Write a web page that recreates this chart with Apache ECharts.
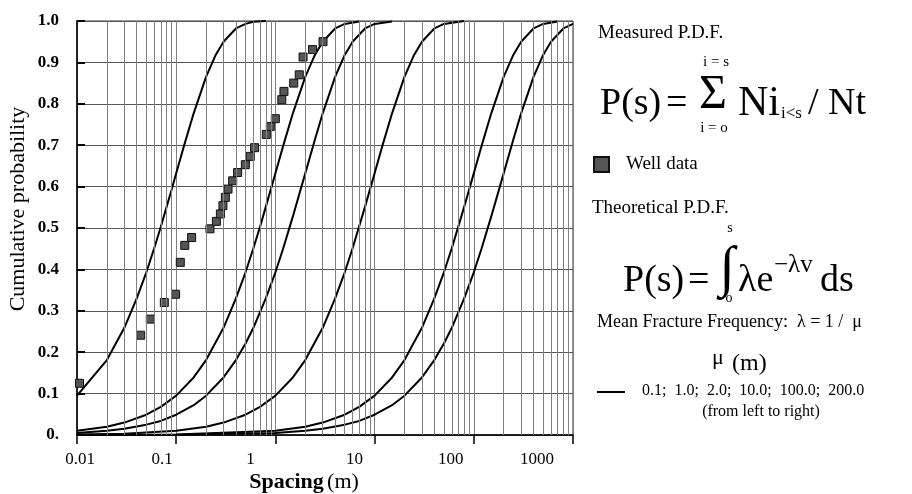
<!DOCTYPE html>
<html><head><meta charset="utf-8">
<script src="https://cdn.jsdelivr.net/npm/echarts/dist/echarts.min.js"></script>
<style>html,body{margin:0;padding:0;background:#fff}#c{width:912px;height:494px}</style>
</head><body><div id="c"></div>
<script>
// ---- tick labels ----
const xTickLabels = ['0.01', '0.1', '1', '10', '100', '1000'];
const yTickLabels = ['0.', '0.1', '0.2', '0.3', '0.4', '0.5', '0.6', '0.7', '0.8', '0.9', '1.0'];
const muLabels = ['0.1', '1.0', '2.0', '10.0', '100.0', '200.0'];

// ---- measured well data (spacing m, cumulative probability) ----
const wellS = [0.0106, 0.0438, 0.0548, 0.0759, 0.0986, 0.110, 0.122, 0.143, 0.219, 0.254, 0.279, 0.296, 0.313, 0.333, 0.371, 0.416, 0.498, 0.558, 0.617, 0.810, 0.889, 0.998, 1.16, 1.22, 1.53, 1.74, 1.90, 2.37, 3.02];
const wellP = [0.125, 0.241, 0.280, 0.320, 0.340, 0.417, 0.458, 0.477, 0.498, 0.516, 0.534, 0.554, 0.574, 0.594, 0.614, 0.634, 0.653, 0.673, 0.694, 0.726, 0.745, 0.764, 0.810, 0.830, 0.850, 0.870, 0.913, 0.931, 0.950];

// ---- theoretical curves ----
const mu01S = [0.01, 0.02, 0.03, 0.04, 0.05, 0.06, 0.07, 0.08, 0.09, 0.1, 0.12, 0.15, 0.2, 0.25, 0.3, 0.4, 0.5, 0.6, 0.8];
const mu01P = [0.095, 0.181, 0.259, 0.330, 0.393, 0.451, 0.503, 0.551, 0.593, 0.632, 0.699, 0.777, 0.865, 0.918, 0.950, 0.982, 0.993, 0.998, 1.000];
const mu1S = [0.01, 0.02, 0.03, 0.05, 0.07, 0.1, 0.15, 0.2, 0.3, 0.4, 0.5, 0.6, 0.7, 0.8, 1, 1.2, 1.5, 2, 2.5, 3, 4, 5, 7];
const mu1P = [0.010, 0.020, 0.030, 0.049, 0.068, 0.095, 0.139, 0.181, 0.259, 0.330, 0.393, 0.451, 0.503, 0.551, 0.632, 0.699, 0.777, 0.865, 0.918, 0.950, 0.982, 0.993, 0.999];
const mu2S = [0.01, 0.02, 0.03, 0.05, 0.07, 0.1, 0.15, 0.2, 0.3, 0.4, 0.5, 0.6, 0.8, 1, 1.2, 1.5, 2, 2.5, 3, 4, 5, 6, 8, 10, 15];
const mu2P = [0.005, 0.010, 0.015, 0.025, 0.034, 0.049, 0.072, 0.095, 0.139, 0.181, 0.221, 0.259, 0.330, 0.393, 0.451, 0.528, 0.632, 0.713, 0.777, 0.865, 0.918, 0.950, 0.982, 0.993, 0.999];
const mu10S = [0.01, 0.03, 0.1, 0.2, 0.3, 0.5, 0.7, 1, 1.5, 2, 3, 4, 5, 6, 8, 10, 12, 15, 20, 25, 30, 40, 50, 80];
const mu10P = [0.001, 0.003, 0.010, 0.020, 0.030, 0.049, 0.068, 0.095, 0.139, 0.181, 0.259, 0.330, 0.393, 0.451, 0.551, 0.632, 0.699, 0.777, 0.865, 0.918, 0.950, 0.982, 0.993, 1.000];
const mu100S = [0.01, 0.1, 1, 2, 3, 5, 7, 10, 15, 20, 30, 40, 50, 60, 80, 100, 120, 150, 200, 250, 300, 400, 500, 700];
const mu100P = [0.0001, 0.001, 0.010, 0.020, 0.030, 0.049, 0.068, 0.095, 0.139, 0.181, 0.259, 0.330, 0.393, 0.451, 0.551, 0.632, 0.699, 0.777, 0.865, 0.918, 0.950, 0.982, 0.993, 0.999];
const mu200S = [0.01, 0.1, 1, 2, 3, 5, 7, 10, 15, 20, 30, 40, 50, 60, 80, 100, 120, 150, 200, 250, 300, 400, 500, 600, 800, 1000];
const mu200P = [0.0001, 0.0005, 0.005, 0.010, 0.015, 0.025, 0.034, 0.049, 0.072, 0.095, 0.139, 0.181, 0.221, 0.259, 0.330, 0.393, 0.451, 0.528, 0.632, 0.713, 0.777, 0.865, 0.918, 0.950, 0.982, 0.993];

// ---- build ----
const SERIF = '"Liberation Serif", "Times New Roman", serif';
const pairs = (s, p) => s.map((v, i) => [v, p[i]]);
const curves = [[mu01S, mu01P], [mu1S, mu1P], [mu2S, mu2P], [mu10S, mu10P], [mu100S, mu100P], [mu200S, mu200P]];

// minor log grid lines 2..9 per decade
const minorGrid = [];
for (let d = -2; d <= 2; d++) for (let k = 2; k <= 9; k++) minorGrid.push({ xAxis: k * Math.pow(10, d) });

// label shifts (reference labels sit off their ticks)
const xPad = [[0, 0, 0, 6], [0, 28, 0, 0], [0, 50, 0, 0], [0, 40, 0, 0], [0, 46, 0, 0], [0, 72, 0, 0]];
const xRich = {};
xPad.forEach((p, i) => { xRich['t' + i] = { padding: p, fontSize: 17, fontFamily: SERIF, color: '#000' }; });

const series = [];
series.push({
  type: 'line', data: [], silent: true, z: 1,
  markLine: { silent: true, symbol: ['none', 'none'], label: { show: false }, animation: false,
    lineStyle: { color: '#808080', width: 1, type: 'solid' }, data: minorGrid }
});
curves.forEach(c => series.push({
  type: 'line', data: pairs(c[0], c[1]), showSymbol: false, symbol: 'none', smooth: false, z: 3,
  lineStyle: { color: '#000', width: 2 }, silent: true
}));
series.push({
  name: 'Well data', type: 'scatter', data: pairs(wellS, wellP), symbol: 'rect', symbolSize: 8, z: 4,
  itemStyle: { color: '#555', borderColor: '#111', borderWidth: 1, opacity: 1 }
});

const T = (text, x, y, size, align, extra) => Object.assign({
  type: 'text', x: x, y: y, z: 10,
  style: { text: text, font: size + 'px ' + SERIF, fill: '#000', textAlign: align || 'left', textVerticalAlign: 'middle' }
}, extra || {});

const option = {
  animation: false,
  backgroundColor: '#fff',
  grid: { left: 77, top: 21, width: 496, height: 414, show: true, borderColor: '#333', borderWidth: 1 },
  xAxis: {
    type: 'log', logBase: 10, min: 0.01, max: 1000,
    axisLine: { show: true, lineStyle: { color: '#000', width: 1.5 } },
    axisTick: { show: true, inside: false, length: 9, lineStyle: { color: '#000', width: 1.5 } },
    axisLabel: { margin: 16, formatter: v => { const i = Math.round(Math.log10(v)) + 2; return '{t' + i + '|' + xTickLabels[i] + '}'; }, rich: xRich },
    splitLine: { show: true, lineStyle: { color: '#808080', width: 1 } },
    minorTick: { show: false }
  },
  yAxis: {
    type: 'value', min: 0, max: 1, interval: 0.1,
    axisLine: { show: true, lineStyle: { color: '#000', width: 1.5 } },
    axisTick: { show: true, inside: true, length: 8, lineStyle: { color: '#000', width: 2 } },
    axisLabel: { formatter: v => yTickLabels[Math.round(v * 10)], fontFamily: SERIF, fontSize: 17, fontWeight: 'bold', color: '#000', margin: 18 },
    splitLine: { show: true, lineStyle: { color: '#555', width: 1 } }
  },
  legend: {
    data: ['Well data'], left: 593, top: 155, padding: 0, itemWidth: 15, itemHeight: 15, icon: 'rect',
    textStyle: { fontSize: 19, fontFamily: SERIF, color: '#000', padding: [0, 0, 0, 12] }
  },
  series: series,
  graphic: [
    T('Cumulative probability', 18, 209, 22, 'center', { rotation: Math.PI / 2 }),
    { type: 'text', x: 304, y: 482, z: 10, style: { text: '{b|Spacing} {n|(m)}', textAlign: 'center', textVerticalAlign: 'middle',
      rich: { b: { fontWeight: 'bold', fontSize: 22, fontFamily: SERIF, fill: '#000' }, n: { fontSize: 22, fontFamily: SERIF, fill: '#000' } } } },
    T('Measured P.D.F.', 598, 33, 19),
    T('i = s', 716, 62, 15, 'center'),
    T('P(s)', 600, 104, 38),
    T('=', 666, 104, 38),
    T('\u03A3', 713, 95, 48, 'center'),
    T('Ni', 738, 104, 42),
    T('i<s', 781, 114, 17),
    T('/ Nt', 808, 104, 38),
    T('i = o', 714, 128, 15, 'center'),
    T('Theoretical P.D.F.', 592, 208, 19),
    T('s', 730, 228, 14, 'center'),
    T('\u222B', 727, 270, 56, 'center'),
    T('o', 729, 298, 14, 'center'),
    T('P(s)', 623, 281, 38),
    T('=', 688, 281, 38),
    T('\u03BBe', 738, 281, 38),
    T('\u2212\u03BBv', 774, 265, 25),
    T('ds', 820, 281, 38),
    T('Mean Fracture Frequency:  \u03BB = 1 /  \u03BC', 597, 322, 18),
    T('\u03BC', 712, 358, 22),
    T('(m)', 732, 364, 24),
    { type: 'line', z: 10, shape: { x1: 597, y1: 392, x2: 625, y2: 392 }, style: { stroke: '#000', lineWidth: 2 } },
    T(muLabels.join(';  '), 642, 391, 16),
    T('(from left to right)', 761, 412, 16, 'center')
  ]
};
const chart = echarts.init(document.getElementById('c'));
chart.setOption(option);
</script>
</body></html>
